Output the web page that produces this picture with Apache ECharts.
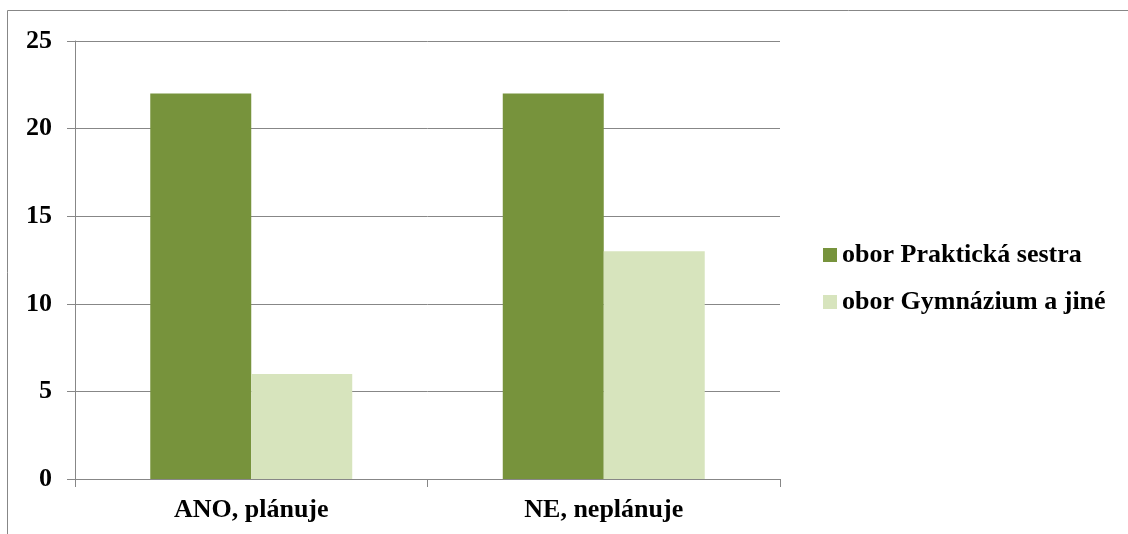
<!DOCTYPE html>
<html>
<head>
<meta charset="utf-8">
<script src="https://cdn.jsdelivr.net/npm/echarts@6/dist/echarts.min.js"></script>
<style>
html,body{margin:0;padding:0;background:#fff;}
#c{width:1128px;height:534px;}
</style>
</head>
<body>
<div id="c"></div>
<script>
var categories = ['ANO, plánuje', 'NE, neplánuje'];
var seriesNames = ['obor Praktická sestra', 'obor Gymnázium a jiné'];
var praktickaSestra = [22, 22];
var gymnaziumJine = [6, 13];
var yTicks = [0, 5, 10, 15, 20, 25];

var font = '"Liberation Serif", "Times New Roman", serif';
var gray = '#878787';
var chart = echarts.init(document.getElementById('c'));
chart.setOption({
  backgroundColor: '#ffffff',
  animation: false,
  graphic: [{
    type: 'rect',
    shape: { x: 7.5, y: 10.5, width: 1300, height: 700 },
    style: { fill: 'none', stroke: gray, lineWidth: 1 },
    silent: true
  }],
  grid: { left: 75, right: 348, top: 41, bottom: 55, containLabel: false },
  legend: {
    orient: 'vertical',
    left: 823, top: 242,
    padding: 0,
    itemWidth: 14, itemHeight: 14, itemGap: 21,
    icon: 'rect',
    textStyle: { fontFamily: font, fontWeight: 'bold', fontSize: 26, color: '#000' },
    data: seriesNames
  },
  xAxis: {
    type: 'category',
    data: categories,
    axisLine: { show: true, lineStyle: { color: gray, width: 1 } },
    axisTick: { show: true, length: 8, lineStyle: { color: gray } },
    axisLabel: { fontFamily: font, fontWeight: 'bold', fontSize: 26, color: '#000', margin: 18 },
    splitLine: { show: false }
  },
  yAxis: {
    type: 'value',
    min: yTicks[0], max: yTicks[yTicks.length - 1], interval: 5,
    axisLine: { show: true, lineStyle: { color: gray, width: 1 } },
    axisTick: { show: true, length: 8, lineStyle: { color: gray } },
    axisLabel: { fontFamily: font, fontWeight: 'bold', fontSize: 26, color: '#000', margin: 23 },
    splitLine: { show: true, lineStyle: { color: gray, width: 1 } }
  },
  series: [
    { name: seriesNames[0], type: 'bar', data: praktickaSestra, barGap: '0%', barCategoryGap: '42.7%', itemStyle: { color: '#77933C' } },
    { name: seriesNames[1], type: 'bar', data: gymnaziumJine, barGap: '0%', barCategoryGap: '42.7%', itemStyle: { color: '#D7E4BD' } }
  ]
});
</script>
</body>
</html>
